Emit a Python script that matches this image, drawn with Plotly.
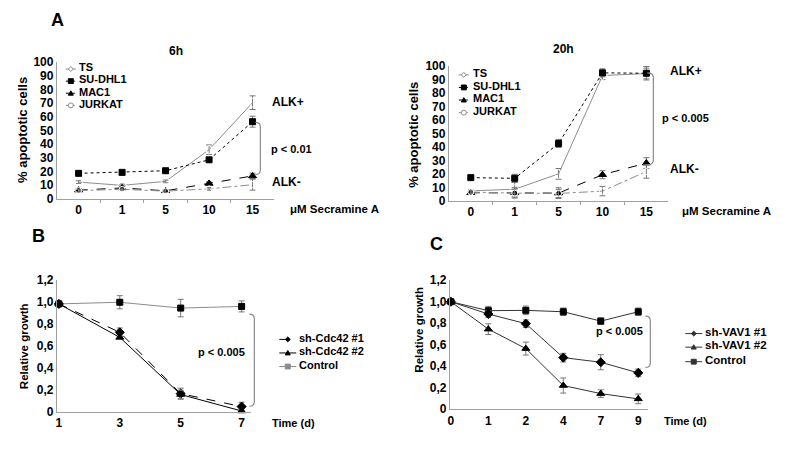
import plotly.graph_objects as go

W, H = 790, 453

# ---------------- data ----------------
conc_labels = ["0", "1", "5", "10", "15"]
cell_lines = ["TS", "SU-DHL1", "MAC1", "JURKAT"]

a6_ts = [12.3, 9.9, 12.8, 36.0, 70.4]
a6_ts_err = [1, 1, 1, 3.5, 5]
a6_su = [18.7, 19.4, 20.6, 28.6, 56.5]
a6_su_err = [1, 1, 1, 1, 4]
a6_mac = [6.4, 8.0, 5.9, 11.3, 16.8]
a6_mac_err = [1, 1, 1, 1, 2]
a6_jur = [6.1, 7.0, 5.7, 7.3, 10.4]
a6_jur_err = [1, 1, 1, 1, 4]

a20_ts = [7.4, 8.6, 20.0, 93.0, 94.5]
a20_ts_err = [1, 5, 4, 3, 4]
a20_su = [17.2, 16.7, 42.6, 95.0, 94.7]
a20_su_err = [1, 3, 3, 3, 5]
a20_mac = [6.0, 6.0, 5.7, 19.4, 28.0]
a20_mac_err = [1, 4, 4, 3, 4]
a20_jur = [6.5, 5.7, 5.5, 7.2, 21.8]
a20_jur_err = [1, 3, 3, 3.5, 5]

b_days = ["1", "3", "5", "7"]
b_names = ["sh-Cdc42 #1", "sh-Cdc42 #2", "Control"]
b_sh1 = [0.985, 0.726, 0.168, 0.05]
b_sh1_err = [0, 0.04, 0.05, 0.04]
b_sh2 = [0.985, 0.68, 0.16, 0.01]
b_sh2_err = [0, 0.01, 0.04, 0.01]
b_ctrl = [0.985, 1.0, 0.947, 0.962]
b_ctrl_err = [0, 0.06, 0.08, 0.05]

c_days = ["0", "1", "2", "4", "7", "9"]
c_names = ["sh-VAV1 #1", "sh-VAV1 #2", "Control"]
c_sh1 = [1.0, 0.886, 0.796, 0.48, 0.437, 0.338]
c_sh1_err = [0, 0.03, 0.035, 0.04, 0.07, 0.035]
c_sh2 = [1.0, 0.745, 0.564, 0.22, 0.145, 0.096]
c_sh2_err = [0, 0.05, 0.06, 0.07, 0.035, 0.045]
c_ctrl = [1.0, 0.917, 0.92, 0.907, 0.82, 0.907]
c_ctrl_err = [0, 0.04, 0.04, 0.035, 0.03, 0.035]

growth_ticks = [0, 0.2, 0.4, 0.6, 0.8, 1.0, 1.2]
growth_ticktext = ["0", "0,2", "0,4", "0,6", "0,8", "1,0", "1,2"]

# ---------------- helpers ----------------
FONT = "Liberation Sans, Arial, sans-serif"


def px(x):
    return x / W


def py(y):
    return 1 - y / H


fig = go.Figure()


def add_series(y, err, name, xa, ya, color, dash, symbol, msize, mline="black"):
    fig.add_trace(go.Scatter(
        x=list(range(len(y))), y=y, name=name, mode="lines+markers",
        xaxis=xa, yaxis=ya, showlegend=False, cliponaxis=False,
        line=dict(color=color, width=1, dash=dash),
        marker=dict(symbol=symbol, size=msize, color=mline if "open" not in symbol else "white",
                    line=dict(color=mline, width=1)),
        error_y=dict(type="data", array=err, color="#777", thickness=1, width=3),
    ))


GRAY = "#8c8c8c"
# Panel A 6h
add_series(a6_ts, a6_ts_err, cell_lines[0], "x", "y", GRAY, "solid", "diamond-open", 7, GRAY)
add_series(a6_su, a6_su_err, cell_lines[1], "x", "y", "black", "dot", "square", 6)
add_series(a6_mac, a6_mac_err, cell_lines[2], "x", "y", "black", "dash", "triangle-up", 7)
add_series(a6_jur, a6_jur_err, cell_lines[3], "x", "y", GRAY, "dashdot", "circle-open", 6, GRAY)
# Panel A 20h
add_series(a20_ts, a20_ts_err, cell_lines[0], "x2", "y2", GRAY, "solid", "diamond-open", 7, GRAY)
add_series(a20_su, a20_su_err, cell_lines[1], "x2", "y2", "black", "dot", "square", 6)
add_series(a20_mac, a20_mac_err, cell_lines[2], "x2", "y2", "black", "dash", "triangle-up", 7)
add_series(a20_jur, a20_jur_err, cell_lines[3], "x2", "y2", GRAY, "dashdot", "circle-open", 6, GRAY)
# Panel B
add_series(b_ctrl, b_ctrl_err, b_names[2], "x3", "y3", GRAY, "solid", "square", 6)
add_series(b_sh1, b_sh1_err, b_names[0], "x3", "y3", "black", "dash", "diamond", 7)
add_series(b_sh2, b_sh2_err, b_names[1], "x3", "y3", "black", "solid", "triangle-up", 7)
# Panel C
add_series(c_ctrl, c_ctrl_err, c_names[2], "x4", "y4", "#333", "solid", "square", 6)
add_series(c_sh1, c_sh1_err, c_names[0], "x4", "y4", "#333", "solid", "diamond", 7)
add_series(c_sh2, c_sh2_err, c_names[1], "x4", "y4", "#333", "solid", "triangle-up", 7)

AXC = "#a0a0a0"
tickfont = dict(family=FONT, size=12, color="black", weight="bold")


def xax(dom, rng, labels, anchor, minor=None):
    d = dict(domain=dom, range=rng, anchor=anchor, tickmode="array",
             tickvals=list(range(len(labels))), ticktext=labels, showgrid=False,
             zeroline=False, showline=True, linecolor=AXC, linewidth=1, ticks="",
             tickfont=tickfont, fixedrange=True)
    if minor:
        d["minor"] = dict(tickmode="array", tickvals=minor, ticks="outside",
                          ticklen=3, tickcolor=AXC, showgrid=False)
    return d


def yax(dom, rng, anchor, tickvals=None, ticktext=None, dtick=None):
    d = dict(domain=dom, range=rng, anchor=anchor, showgrid=False, zeroline=False,
             showline=True, linecolor=AXC, linewidth=1, ticks="", tickfont=tickfont,
             fixedrange=True)
    if tickvals is not None:
        d.update(tickmode="array", tickvals=tickvals, ticktext=ticktext)
    else:
        d.update(tickmode="linear", tick0=0, dtick=dtick)
    return d


fig.update_layout(
    width=W, height=H, margin=dict(l=0, r=0, t=0, b=0),
    paper_bgcolor="white", plot_bgcolor="white",
    font=dict(family=FONT, size=12, color="black"),
    xaxis=xax([px(55), px(273)], [-0.5, 4.5], conc_labels, "y", [0.5, 1.5, 2.5, 3.5]),
    yaxis=yax([py(198), py(57)], [0, 100], "x", dtick=10),
    xaxis2=xax([px(448), px(668)], [-0.5, 4.5], conc_labels, "y2", [0.5, 1.5, 2.5, 3.5]),
    yaxis2=yax([py(200), py(61)], [0, 100], "x2", dtick=10),
    xaxis3=xax([px(55), px(250)], [-0.033, 3.16], b_days, "y3"),
    yaxis3=yax([py(418), py(282)], [0, 1.2], "x3", growth_ticks, growth_ticktext),
    xaxis4=xax([px(449), px(648)], [-0.027, 5.27], c_days, "y4"),
    yaxis4=yax([py(415), py(282)], [0, 1.2], "x4", growth_ticks, growth_ticktext),
)

annotations = []
shapes = []


def text(x, y, s, size=12, anchor="left", angle=0):
    yy = y - 0.2 * size if angle == 0 else y
    annotations.append(dict(x=px(x), y=py(yy), xref="paper", yref="paper", text=s,
                            showarrow=False, xanchor=anchor, yanchor="middle", textangle=angle,
                            borderpad=0,
                            font=dict(family=FONT, size=size, color="black", weight="bold")))


def brace(xs, xv, y0, y1, color="#8c8c8c"):
    r = 5
    path = (f"M {px(xs)},{py(y0)} Q {px(xv)},{py(y0)} {px(xv)},{py(y0 + r)} "
            f"L {px(xv)},{py(y1 - r)} Q {px(xv)},{py(y1)} {px(xs)},{py(y1)}")
    shapes.append(dict(type="path", path=path, xref="paper", yref="paper",
                       line=dict(color=color, width=1.2)))


def marker_shape(x, y, kind, color, filled, s=2.5):
    fill = color if filled else "white"
    ln = dict(color=color, width=1)
    if kind == "square":
        shapes.append(dict(type="rect", xref="paper", yref="paper", x0=px(x - s), x1=px(x + s),
                           y0=py(y - s), y1=py(y + s), fillcolor=fill, line=ln))
    elif kind == "circle":
        shapes.append(dict(type="circle", xref="paper", yref="paper", x0=px(x - s), x1=px(x + s),
                           y0=py(y - s), y1=py(y + s), fillcolor=fill, line=ln))
    elif kind == "triangle":
        p = f"M {px(x - s)},{py(y + s * 0.8)} L {px(x + s)},{py(y + s * 0.8)} L {px(x)},{py(y - s)} Z"
        shapes.append(dict(type="path", path=p, xref="paper", yref="paper", fillcolor=fill, line=ln))
    elif kind == "diamond":
        p = f"M {px(x - s)},{py(y)} L {px(x)},{py(y - s)} L {px(x + s)},{py(y)} L {px(x)},{py(y + s)} Z"
        shapes.append(dict(type="path", path=p, xref="paper", yref="paper", fillcolor=fill, line=ln))


def legend(x0, x1, xt, ys, names, styles, size=12):
    for y, name, (color, dash, kind, filled) in zip(ys, names, styles):
        shapes.append(dict(type="line", xref="paper", yref="paper", x0=px(x0), x1=px(x1),
                           y0=py(y), y1=py(y), line=dict(color=color, width=1, dash=dash)))
        marker_shape((x0 + x1) / 2, y, kind, color, filled)
        text(xt, y + 0.5, name, size)


a_styles = [(GRAY, "solid", "diamond", False), ("black", "dot", "square", True),
            ("black", "dash", "triangle", True), (GRAY, "dashdot", "circle", False)]

# Panel A left
text(56, 17, "A", 18, "center")
text(174, 48, "6h", 12, "center")
text(20, 127, "% apoptotic cells", 13, "center", -90)
legend(64, 74, 76, [64, 76.5, 89, 101.5], cell_lines, a_styles, 11)
text(270, 100, "ALK+", 12)
text(270, 183, "ALK-", 12)
text(269, 149, "p < 0.01", 11)
text(288, 211, "μM Secramine A", 11.5)
brace(254, 259, 119, 173)

# Panel A right
text(563, 46, "20h", 12, "center")
text(413, 132, "% apoptotic cells", 13, "center", -90)
legend(458, 468, 471, [70, 83, 96, 109], cell_lines, a_styles, 11)
text(669, 68, "ALK+", 12)
text(669, 170, "ALK-", 12)
text(661, 117, "p < 0.005", 11)
text(681, 213, "μM Secramine A", 11.5)
brace(647, 653, 68, 163)

# Panel B
text(37, 240, "B", 18, "center")
text(22, 350, "Relative growth", 11.5, "center", -90)
legend(278, 295, 297, [343, 357, 371], b_names,
       [("black", "dash", "diamond", True), ("black", "solid", "triangle", True),
        (GRAY, "solid", "square", True)], 11)
text(195, 358, "p < 0.005", 11)
text(270, 431, "Time (d)", 11)
brace(248, 253, 317, 412)

# Panel C
text(436, 248, "C", 18, "center")
text(418, 333, "Relative growth", 11.5, "center", -90)
legend(685, 702, 704, [337, 351, 366], c_names,
       [("#333", "solid", "diamond", True), ("#333", "solid", "triangle", True),
        ("#333", "solid", "square", True)], 11.5)
text(595, 337, "p < 0.005", 11)
text(663, 429, "Time (d)", 11)
brace(645, 650, 319, 372)

fig.update_layout(annotations=annotations, shapes=shapes)
fig.write_html("out.html", config={"displayModeBar": False},
               post_script="document.body.style.margin='0px';")
